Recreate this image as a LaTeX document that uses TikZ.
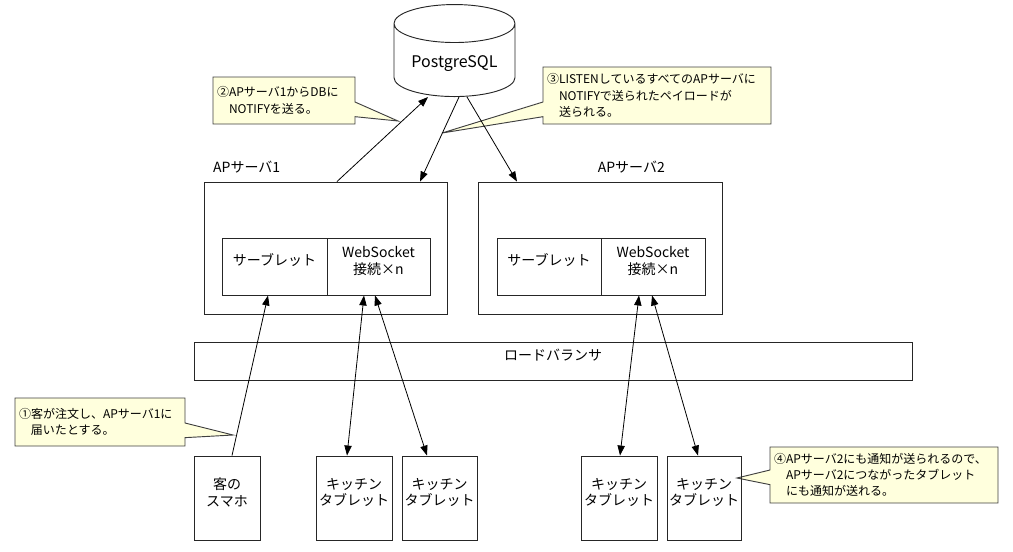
\documentclass[tikz,border=0pt]{standalone}
\usepackage{fontspec}
\setmainfont{Noto Sans CJK JP}
\usetikzlibrary{arrows.meta,positioning,fit,shapes.geometric,shapes.callouts}

\definecolor{notefill}{RGB}{255,255,221}
\definecolor{noteline}{RGB}{64,64,64}

\begin{document}
\begin{tikzpicture}[
  x=0.75pt, y=-0.75pt,
  box/.style={draw=black!85, line width=0.7pt, inner sep=0pt, align=center, font=\fontsize{10.5pt}{12.5pt}\selectfont},
  dbnode/.style={draw=black!85, line width=0.7pt, cylinder, shape border rotate=90, aspect=0.4, minimum width=90.75pt, minimum height=69pt, font=\fontsize{12pt}{14pt}\selectfont},
  note/.style={rectangle callout, draw=noteline, fill=notefill, line width=0.7pt, align=left, inner xsep=3pt, inner ysep=2pt, callout pointer width=11pt, font=\fontsize{9pt}{12.3pt}\selectfont},
  title/.style={inner sep=0pt, font=\fontsize{10.5pt}{12.5pt}\selectfont},
  arrow/.style={-{Triangle[length=7.5pt,width=5.5pt]}, line width=0.6pt},
  twoway/.style={{Triangle[length=7.5pt,width=5.5pt]}-{Triangle[length=7.5pt,width=5.5pt]}, line width=0.6pt}
]
\useasboundingbox (0,0) rectangle (1013,551);

% callouts (drawn first, lines go over them)
\node[note, text width=100.5pt, minimum height=35.25pt, callout absolute pointer={(398,121)}] (note2) at (284,100.5)
  {②APサーバ1からDBに\\\phantom{②}NOTIFYを送る。};
\node[note, text width=165pt, minimum height=42.75pt, callout absolute pointer={(442,133)}] (note3) at (657,95.5)
  {③LISTENしているすべてのAPサーバに\\\phantom{③}NOTIFYで送られたペイロードが\\\phantom{③}送られる。};
\node[note, text width=121.5pt, minimum height=36pt, callout absolute pointer={(233,435)}] (note1) at (100,422)
  {①客が注文し、APサーバ1に\\\phantom{①}届いたとする。};
\node[note, text width=165pt, minimum height=42pt, callout absolute pointer={(737,478)}] (note4) at (884,475)
  {④APサーバ2にも通知が送られるので、\\\phantom{④}APサーバ2につながったタブレット\\\phantom{④}にも通知が送れる。};

% database
\node[dbnode, anchor=south] (db) at (454.5,97) {PostgreSQL};

% application servers
\node[box, fit={(204,182) (447,314)}] (ap1) {};
\node[box, fit={(478,182) (722,314)}] (ap2) {};
\node[title, above right=6pt and 7pt of ap1.north west] (ap1-title) {APサーバ1};
\node[title, above right=6pt and 90pt of ap2.north west] (ap2-title) {APサーバ2};

\node[box, fit={(222,238) (327,295)}] (servlet1) {サーブレット};
\node[box, fit={(327,238) (430,295)}] (ws1) {WebSocket\\接続×n};
\node[box, fit={(497,238) (601,295)}] (servlet2) {サーブレット};
\node[box, fit={(601,238) (705,295)}] (ws2) {WebSocket\\接続×n};

% load balancer
\node[box, fit={(194,342) (912,380)}] (lb) {ロードバランサ};

% clients
\node[box, fit={(194,456) (260,540)}] (phone) {客の\\スマホ};
\node[box, fit={(316,456) (392,540)}] (tab1) {キッチン\\タブレット};
\node[box, fit={(402,456) (477,540)}] (tab2) {キッチン\\タブレット};
\node[box, fit={(581,456) (657,540)}] (tab3) {キッチン\\タブレット};
\node[box, fit={(667,456) (741,540)}] (tab4) {キッチン\\タブレット};

% connections
\draw[arrow] ([shift={(11.5,0)}]ap1.north) -- ([shift={(-26.5,0)}]db.south);
\draw[arrow] ([shift={(4.5,0)}]db.south) -- ([shift={(94.5,0)}]ap1.north);
\draw[arrow] ([shift={(12.5,0)}]db.south) -- ([shift={(-83,0)}]ap2.north);

\draw[arrow] ([shift={(5,0)}]phone.north) -- ([shift={(-6.5,0)}]servlet1.south);
\draw[twoway] ([shift={(-14.5,0)}]ws1.south) -- ([shift={(-7,0)}]tab1.north);
\draw[twoway] ([shift={(-3.5,0)}]ws1.south) -- ([shift={(-12.5,0)}]tab2.north);
\draw[twoway] ([shift={(-14,0)}]ws2.south) -- ([shift={(1,0)}]tab3.north);
\draw[twoway] ([shift={(-1,0)}]ws2.south) -- ([shift={(-6,0)}]tab4.north);
\end{tikzpicture}
\end{document}
